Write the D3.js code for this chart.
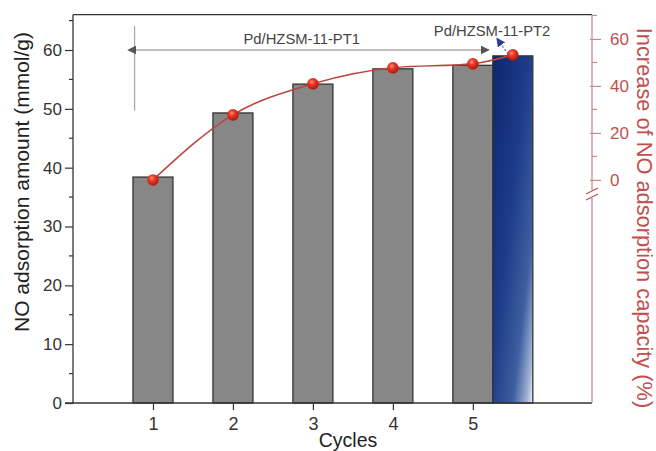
<!DOCTYPE html>
<html><head><meta charset="utf-8">
<script src="https://cdn.jsdelivr.net/npm/d3@7"></script>
<style>body{margin:0;background:#fff}svg{display:block;font-family:"Liberation Sans",Arial,sans-serif}</style>
</head><body><svg id="c" width="656" height="451"></svg>
<script>
const cycleLabels = ["1","2","3","4","5"];
const cyclePos = [1,2,3,4,5];
const barPos = [1,2,3,4,5,5.5];
const amount = [38.4, 49.3, 54.2, 56.8, 57.4, 59.0];
const increase = [0, 27.7, 40.9, 47.7, 49.4, 53.2];
const sample = ["PT1","PT1","PT1","PT1","PT1","PT2"];
const leftTicks = [0,10,20,30,40,50,60];
const rightTicks = [0,20,40,60];
const annoLabels = ["Pd/HZSM-11-PT1","Pd/HZSM-11-PT2"];

const svg = d3.select("#c");
const L=73, R=592, T=14.7, B=403;
const x = d3.scaleLinear().domain([0,6.49]).range([L,R]);
const y = d3.scaleLinear().domain([0,66]).range([B,T]);
const yr = d3.scaleLinear().domain([-94.9,70.3]).range([B,T]);
const red = "#c0504d", redAxis="#c98a86";

const defs = svg.append("defs");
const g1 = defs.append("linearGradient").attr("id","blue").attr("x1",0).attr("y1",0).attr("x2",1).attr("y2",1);
[[0,"#0e2670"],[0.45,"#1d3c8a"],[0.75,"#3f5fa0"],[0.92,"#9fb2d2"],[1,"#eef2f8"]].forEach(s=>g1.append("stop").attr("offset",s[0]).attr("stop-color",s[1]));
const rg = defs.append("radialGradient").attr("id","ball").attr("cx",0.4).attr("cy",0.35).attr("r",0.65);
[[0,"#ff9a8a"],[0.35,"#f03a2a"],[1,"#b01808"]].forEach(s=>rg.append("stop").attr("offset",s[0]).attr("stop-color",s[1]));
["arrL","arrR"].forEach((id,i)=>{
  defs.append("marker").attr("id",id).attr("viewBox","0 0 10 10").attr("refX",i?9:1).attr("refY",5)
   .attr("markerWidth",9).attr("markerHeight",9).attr("markerUnits","userSpaceOnUse").attr("orient","auto-start-reverse")
   .append("path").attr("d","M0,0 L10,5 L0,10 z").attr("fill","#555");
});
defs.append("marker").attr("id","arrB").attr("viewBox","0 0 10 10").attr("refX",9).attr("refY",5)
   .attr("markerWidth",9).attr("markerHeight",9).attr("markerUnits","userSpaceOnUse").attr("orient","auto")
   .append("path").attr("d","M0,0 L10,5 L0,10 z").attr("fill","#2a3f9a");

// bars
const bw = x(1.25)-x(0.75);
svg.selectAll("rect.bar").data(amount).join("rect").attr("class","bar")
  .attr("x",(d,i)=>x(barPos[i])-bw/2).attr("width",bw)
  .attr("y",d=>y(d)).attr("height",d=>B-y(d))
  .attr("fill",(d,i)=>sample[i]==="PT2"?"url(#blue)":"#878787")
  .attr("stroke","#333").attr("stroke-width",1.3);

// frame
svg.append("line").attr("x1",L).attr("x2",R).attr("y1",T).attr("y2",T).attr("stroke","#333").attr("stroke-width",1.3);
// left axis
const la = svg.append("g").attr("transform",`translate(${L},0)`)
  .call(d3.axisLeft(y).tickValues(leftTicks).tickSize(8).tickPadding(3));
la.select(".domain").remove();
la.append("line").attr("y1",T).attr("y2",B+0.5).attr("stroke","#333").attr("stroke-width",1.3);
la.selectAll(".tick line").attr("stroke","#333").attr("stroke-width",1.2);
la.selectAll("text").attr("font-size",17).attr("fill","#333");
la.selectAll("line.minor").data(d3.range(5,66,10)).join("line").attr("class","minor")
  .attr("x1",-4).attr("x2",0).attr("y1",d=>y(d)).attr("y2",d=>y(d)).attr("stroke","#333").attr("stroke-width",1.2);

// bottom axis
const ba = svg.append("g").attr("transform",`translate(0,${B})`)
  .call(d3.axisBottom(x).tickValues(cyclePos).tickFormat((d,i)=>cycleLabels[i]).tickSize(7).tickPadding(7));
ba.select(".domain").remove();
ba.append("line").attr("x1",L-8).attr("x2",R).attr("stroke","#333").attr("stroke-width",1.3);
ba.selectAll(".tick line").attr("stroke","#333").attr("stroke-width",1.2);
ba.selectAll("text").attr("font-size",18).attr("fill","#333");

// right axis
const breakY = yr(-6);
const ra = svg.append("g").attr("transform",`translate(${R},0)`)
  .call(d3.axisRight(yr).tickValues(rightTicks).tickSize(9).tickPadding(9));
ra.select(".domain").remove();
ra.append("line").attr("y1",T).attr("y2",breakY-4).attr("stroke",redAxis).attr("stroke-width",1.3);
ra.append("line").attr("y1",breakY+4).attr("y2",B).attr("stroke",redAxis).attr("stroke-width",1.3);
[-3,3].forEach(o=>ra.append("line").attr("x1",-6).attr("x2",6).attr("y1",breakY+o+3).attr("y2",breakY+o-3).attr("stroke",red).attr("stroke-width",1.2));
ra.selectAll(".tick line").attr("x1",-2).attr("stroke",redAxis).attr("stroke-width",1.2);
ra.selectAll("text").attr("font-size",17).attr("fill",red);
ra.selectAll("line.minor").data([10,30,50,70]).join("line").attr("class","minor")
  .attr("x1",0).attr("x2",5).attr("y1",d=>yr(Math.min(d,70.3))).attr("y2",d=>yr(Math.min(d,70.3))).attr("stroke",redAxis).attr("stroke-width",1.2);

// axis titles
svg.append("text").attr("transform",`translate(29,182) rotate(-90)`).attr("text-anchor","middle")
  .attr("font-size",21).attr("fill","#222").text("NO adsorption amount (mmol/g)");
svg.append("text").attr("transform",`translate(637,218) rotate(90)`).attr("text-anchor","middle")
  .attr("font-size",21.8).attr("fill",red).text("Increase of NO adsorption capacity (%)");
svg.append("text").attr("x",348).attr("y",447).attr("text-anchor","middle").attr("font-size",19.5).attr("fill","#222").text("Cycles");

// annotations
svg.append("line").attr("x1",x(0.77)).attr("x2",x(0.77)).attr("y1",y(64.1)).attr("y2",y(49.7)).attr("stroke","#aaa").attr("stroke-width",1.3);
svg.append("line").attr("x1",x(0.78)).attr("x2",x(5.2)).attr("y1",y(60)).attr("y2",y(60))
  .attr("stroke","#aaa").attr("stroke-width",1.3).attr("marker-start","url(#arrL)").attr("marker-end","url(#arrR)");
svg.append("text").attr("x",x(2.86)).attr("y",y(60)-6).attr("text-anchor","middle").attr("font-size",14.8).attr("fill","#444").text(annoLabels[0]);
svg.append("text").attr("x",x(5.24)).attr("y",y(62.3)).attr("text-anchor","middle").attr("font-size",14.8).attr("fill","#444").text(annoLabels[1]);
svg.append("line").attr("x1",x(5.44)).attr("y1",y(59.3)).attr("x2",x(5.3)).attr("y2",y(62))
  .attr("stroke","#6a7ab8").attr("stroke-width",1.3).attr("stroke-dasharray","2,2").attr("marker-end","url(#arrB)");

// line + points
const line = d3.line().x((d,i)=>x(barPos[i])).y(d=>yr(d)).curve(d3.curveMonotoneX);
svg.append("path").datum(increase).attr("d",line).attr("fill","none").attr("stroke","#b9473f").attr("stroke-width",1.6);
svg.selectAll("circle.pt").data(increase).join("circle").attr("class","pt")
  .attr("cx",(d,i)=>x(barPos[i])).attr("cy",d=>yr(d)).attr("r",5.8).attr("fill","url(#ball)");
</script></body></html>
